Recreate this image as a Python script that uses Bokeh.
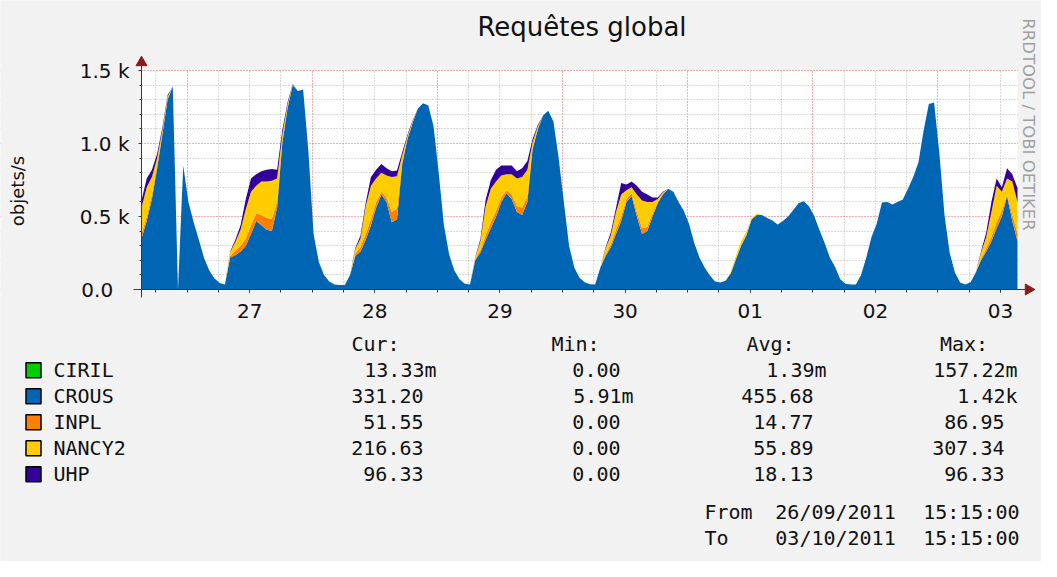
import math
import pandas as pd
from datetime import datetime, timedelta
from bokeh.plotting import figure
from bokeh.models import (ColumnDataSource, FixedTicker, DatetimeTickFormatter,
                          Range1d, BoxAnnotation)
from bokeh.embed import file_html
from bokeh.resources import INLINE
from bokeh.core.properties import value

# ---------------- data (hourly samples, 26/09/2011 15:15 -> 03/10/2011 15:15) ----------------
START = datetime(2011, 9, 26, 15, 15)
END = datetime(2011, 10, 3, 15, 15)

series_names = ["CIRIL", "CROUS", "INPL", "NANCY2", "UHP"]
series_colors = ["#00CC00", "#0066B3", "#FF8000", "#FFCC00", "#330099"]

CIRIL = [
    0, 0, 0, 0, 0, 0, 0, 0, 0,
    0, 0, 0, 0, 0, 0, 0, 0, 0, 0, 0, 0, 0, 0, 0, 0, 0, 0, 0, 0, 0, 0, 0, 0,
    0, 0, 0, 0, 0, 0, 0, 0, 0, 0, 0, 0, 0, 0, 0.157, 0, 0, 0, 0, 0, 0, 0, 0, 0,
    0, 0, 0, 0, 0, 0, 0, 0, 0, 0, 0, 0, 0, 0, 0, 0, 0, 0, 0, 0, 0, 0, 0, 0,
    0, 0, 0, 0, 0, 0, 0, 0, 0, 0, 0, 0, 0, 0, 0, 0, 0, 0, 0, 0, 0, 0, 0, 0,
    0, 0, 0, 0, 0, 0, 0, 0, 0, 0, 0, 0, 0, 0, 0, 0, 0, 0, 0, 0, 0, 0, 0, 0,
    0, 0, 0, 0, 0, 0, 0, 0, 0, 0, 0, 0, 0, 0, 0, 0, 0, 0, 0, 0, 0, 0, 0, 0,
    0, 0, 0, 0, 0, 0, 0, 0, 0, 0, 0, 0, 0, 0, 0, 0.013,
]
CROUS = [
    350, 470, 620, 830, 1060, 1300, 1390, 0, 850,
    600, 460, 340, 215, 130, 75, 45, 35, 220, 235, 260, 300, 380, 470, 440, 410, 400, 560, 1000, 1240, 1400, 1360, 1370, 950,
    380, 190, 100, 55, 35, 30, 30, 100, 230, 260, 340, 440, 560, 650, 600, 460, 480, 860, 1030, 1140, 1240, 1275, 1260, 1120,
    800, 440, 240, 130, 70, 40, 34, 200, 253, 340, 420, 500, 600, 660, 620, 530, 510, 600, 960, 1096, 1192, 1225, 1150, 900,
    600, 300, 150, 80, 50, 36, 34, 150, 230, 290, 380, 470, 600, 640, 500, 380, 400, 500, 590, 650, 690, 670, 600, 540,
    450, 320, 220, 150, 96, 55, 48, 60, 110, 205, 300, 370, 480, 510, 510, 490, 473, 445, 470, 500, 545, 590, 605, 570,
    505, 410, 320, 220, 155, 70, 40, 34, 34, 100, 220, 360, 450, 596, 600, 582, 600, 616, 690, 770, 870, 1090, 1270, 1281,
    940, 510, 250, 116, 48, 34, 50, 116, 200, 260, 330, 420, 500, 640, 470, 331.2,
]
INPL = [
    30, 30, 30, 20, 10, 5, 0, 0, 0,
    0, 0, 0, 0, 0, 0, 0, 0, 10, 30, 40, 50, 60, 50, 70, 80, 85, 40, 10, 5, 0, 0, 0, 0,
    0, 0, 0, 0, 0, 0, 0, 0, 15, 30, 40, 40, 40, 20, 30, 70, 75, 10, 5, 3, 0, 0, 0, 0,
    0, 0, 0, 0, 0, 0, 0, 5, 20, 30, 40, 40, 30, 20, 30, 40, 50, 40, 10, 5, 0, 0, 0, 0,
    0, 0, 0, 0, 0, 0, 0, 0, 10, 20, 30, 30, 20, 20, 30, 40, 30, 20, 10, 5, 0, 0, 0, 0,
    0, 0, 0, 0, 0, 0, 0, 0, 0, 5, 5, 5, 0, 0, 0, 0, 0, 0, 0, 0, 0, 0, 0, 0,
    0, 0, 0, 0, 0, 0, 0, 0, 0, 0, 0, 0, 0, 0, 0, 0, 0, 0, 0, 0, 0, 0, 0, 0,
    0, 0, 0, 0, 0, 0, 0, 0, 10, 20, 30, 40, 40, 10, 40, 51.55,
]
NANCY2 = [
    180, 200, 120, 50, 20, 15, 0, 0, 0,
    0, 0, 0, 0, 0, 0, 0, 0, 25, 60, 110, 200, 230, 190, 230, 250, 260, 160, 50, 20, 5, 0, 0, 0,
    0, 0, 0, 0, 0, 0, 0, 0, 30, 60, 190, 230, 160, 130, 150, 240, 220, 50, 15, 10, 0, 0, 0, 0,
    0, 0, 0, 0, 0, 0, 0, 10, 60, 200, 230, 200, 150, 110, 140, 190, 210, 180, 40, 15, 0, 0, 0, 0,
    0, 0, 0, 0, 0, 0, 0, 0, 40, 60, 120, 150, 60, 40, 120, 190, 170, 80, 20, 10, 0, 0, 0, 0,
    0, 0, 0, 0, 0, 0, 0, 0, 10, 20, 25, 20, 10, 8, 0, 0, 0, 0, 0, 0, 0, 0, 0, 0,
    0, 0, 0, 0, 0, 0, 0, 0, 0, 0, 0, 0, 0, 0, 0, 0, 0, 0, 0, 0, 0, 0, 0, 0,
    0, 0, 0, 0, 0, 0, 0, 0, 40, 80, 170, 250, 130, 110, 230, 216.63,
]
UHP = [
    50, 60, 50, 30, 20, 10, 0, 0, 0,
    0, 0, 0, 0, 0, 0, 0, 0, 5, 15, 30, 70, 90, 80, 70, 80, 80, 60, 30, 15, 5, 0, 0, 0,
    0, 0, 0, 0, 0, 0, 0, 0, 10, 20, 25, 60, 60, 60, 50, 40, 40, 20, 10, 7, 0, 0, 0, 0,
    0, 0, 0, 0, 0, 0, 0, 5, 15, 45, 60, 80, 70, 60, 60, 50, 60, 60, 20, 10, 0, 0, 0, 0,
    0, 0, 0, 0, 0, 0, 0, 0, 10, 20, 30, 80, 40, 40, 60, 60, 50, 30, 10, 5, 0, 0, 0, 0,
    0, 0, 0, 0, 0, 0, 0, 0, 0, 0, 0, 0, 0, 0, 0, 0, 0, 0, 0, 0, 0, 0, 0, 0,
    0, 0, 0, 0, 0, 0, 0, 0, 0, 0, 0, 0, 0, 0, 0, 0, 0, 0, 0, 0, 0, 0, 0, 0,
    0, 0, 0, 0, 0, 0, 0, 0, 10, 30, 70, 50, 30, 70, 50, 96.33,
]

# legend statistics (Cur, Min, Avg, Max)
stat_headers = ["Cur:", "Min:", "Avg:", "Max:"]
stats = {
    "CIRIL":  ["13.33m", "0.00", "1.39m", "157.22m"],
    "CROUS":  ["331.20", "5.91m", "455.68", "1.42k"],
    "INPL":   ["51.55", "0.00", "14.77", "86.95"],
    "NANCY2": ["216.63", "0.00", "55.89", "307.34"],
    "UHP":    ["96.33", "0.00", "18.13", "96.33"],
}
from_text = ["From", "26/09/2011", "15:15:00"]
to_text = ["To", "03/10/2011", "15:15:00"]
title_text = "Requêtes global"
y_label_text = "objets/s"
watermark_text = "RRDTOOL / TOBI OETIKER"

y_ticks = [0, 500, 1000, 1500]
y_tick_labels = ["0.0\u00a0\u2002", "0.5 k", "1.0 k", "1.5 k"]
YMAX = 1500

# ---------------- styling / layout constants ----------------
BG = "#f2f2f2"
GRID = "#b4b4b4"
MGRID = "#e86060"
AXIS = "#3a3a3a"
ARROW = "#8b1a1a"
TXT = "#111111"

W, H = 1041, 561                       # figure size
PX0, PY0 = 8, 8                        # page position of the figure
PX1, PY1 = PX0 + W, PY0 + H
PL, PR, PT, PB = 149, 1025, 78, 297    # page position of the graph area


def ms(dt):
    return pd.Timestamp(dt).value // 10**6


t0, t1 = ms(START), ms(END)
ms_per_px = (t1 - t0) / (PR - PL)
v_per_px = YMAX / (PB - PT)

times = pd.date_range(START, END, freq="1h")
src = ColumnDataSource(dict(t=times, CIRIL=CIRIL, CROUS=CROUS, INPL=INPL, NANCY2=NANCY2, UHP=UHP))

day0 = datetime(2011, 9, 27)
noons = [ms(day0 + timedelta(days=k, hours=12)) for k in range(7)]
midnights = [ms(day0 + timedelta(days=k)) for k in range(7)]
six_h = [ms(datetime(2011, 9, 26, 18) + timedelta(hours=6 * k)) for k in range(28)]
six_h_minor = [t for t in six_h if t not in midnights]
y_minor = [v for v in range(100, YMAX, 100) if v % 500]

p = figure(width=W, height=H, x_axis_type="datetime", title=None,
           x_range=Range1d(t0 - (PL - PX0) * ms_per_px, t1 + (PX1 - PR) * ms_per_px),
           y_range=Range1d(-(PY1 - PB) * v_per_px, YMAX + (PT - PY0) * v_per_px),
           output_backend="svg", toolbar_location=None, min_border=0,
           background_fill_color=BG, border_fill_color=BG, outline_line_color=None)
# page-pixel coordinate system for texts and legend
p.extra_x_ranges = {"px": Range1d(PX0, PX1)}
p.extra_y_ranges = {"px": Range1d(PY1, PY0)}

# white canvas of the graph
p.add_layout(BoxAnnotation(left=t0, right=t1, bottom=0, top=YMAX, fill_color="white",
                           fill_alpha=1, line_color=None, level="image"))

# grids
p.xgrid.ticker = FixedTicker(ticks=midnights, minor_ticks=six_h_minor)
p.ygrid.ticker = FixedTicker(ticks=y_ticks, minor_ticks=y_minor)
for g in (p.xgrid[0], p.ygrid[0]):
    g.grid_line_color = MGRID
    g.grid_line_dash = "1 2"
    g.minor_grid_line_color = GRID
    g.minor_grid_line_dash = "1 2"

# hide the grid outside the graph area
for kw in (dict(bottom=YMAX + 0.6 * v_per_px), dict(top=-0.6 * v_per_px),
           dict(right=t0), dict(left=t1 + 0.6 * ms_per_px)):
    p.add_layout(BoxAnnotation(fill_color=BG, fill_alpha=1, line_color=None, level="underlay", **kw))

# stacked areas
p.varea_stack(stackers=series_names, x="t", color=series_colors, source=src)

# x axis, drawn at value 0
xa = p.xaxis[0]
xa.fixed_location = 0
xa.bounds = (t0 - 8 * ms_per_px, t1 + 8 * ms_per_px)
xa.ticker = FixedTicker(ticks=noons, minor_ticks=six_h)
xa.formatter = DatetimeTickFormatter(days="%d", hours="%d", hourmin="%d", months="%d")
xa.major_label_standoff = 11
xa.major_tick_out = 3
xa.minor_tick_out = 3

# y axis, drawn at the start time
ya = p.yaxis[0]
ya.fixed_location = t0
ya.bounds = (-8 * v_per_px, YMAX + 9 * v_per_px)
ya.ticker = FixedTicker(ticks=y_ticks, minor_ticks=y_minor)
ya.major_label_overrides = dict(zip(y_ticks, y_tick_labels))
ya.major_label_standoff = 9
ya.major_tick_out = 3
ya.minor_tick_out = 2

for ax in (xa, ya):
    ax.major_label_text_font = "DejaVu Sans"
    ax.major_label_text_font_size = "20px"
    ax.major_label_text_color = TXT
    ax.major_tick_in = 0
    ax.minor_tick_in = 0
    ax.axis_line_color = AXIS
    ax.major_tick_line_color = AXIS
    ax.minor_tick_line_color = AXIS

# axis arrows
p.scatter(x=[PL, PR + 11], y=[PT - 8, PB], marker="triangle", size=11,
          angle=[0, -math.pi / 2], fill_color=ARROW, line_color=ARROW,
          x_range_name="px", y_range_name="px")

SANS = value("DejaVu Sans")
MONO = value("DejaVu Sans Mono")

# title, vertical axis title and watermark (y / x = middle of the text line)
p.text(x=[589.5], y=[34], text=[title_text], text_font=SANS, text_font_size=value("26px"),
       text_align="center", text_baseline="middle", text_color=TXT,
       x_range_name="px", y_range_name="px")
p.text(x=[25], y=[198.5], text=[y_label_text], angle=math.pi / 2, text_font=SANS,
       text_font_size=value("18px"), text_align="center", text_baseline="middle",
       text_color=TXT, x_range_name="px", y_range_name="px")
p.text(x=[1036], y=[132], text=[watermark_text], angle=-math.pi / 2, text_font=SANS,
       text_font_size=value("16.5px"), text_align="center", text_baseline="middle",
       text_color="#a0a0a0", x_range_name="px", y_range_name="px")

# ---------------- legend ----------------
FS = value("20px")
row0, row_step = 377.7, 26.0
rows_y = [row0 + row_step * k for k in range(len(series_names))]

p.rect(x=[41] * len(series_names), y=rows_y, width=15, height=15,
       fill_color=series_colors, line_color="black", line_width=1.5,
       x_range_name="px", y_range_name="px")
p.text(x=[61] * len(series_names), y=rows_y, text=series_names, text_font=MONO,
       text_font_size=FS, text_align="left", text_baseline="middle", text_color=TXT,
       x_range_name="px", y_range_name="px")

header_cx = [383, 583, 778, 971.5]
p.text(x=header_cx, y=[351.5] * 4, text=stat_headers, text_font=MONO, text_font_size=FS,
       text_align="center", text_baseline="middle", text_color=TXT,
       x_range_name="px", y_range_name="px")

col_right = [431, 628, 821, 1012]
vx, vy, vt = [], [], []
for name, y in zip(series_names, rows_y):
    for c, s in enumerate(stats[name]):
        vx.append(col_right[c] + (13 if s[-1].isalpha() else 0))
        vy.append(y)
        vt.append(s)
p.text(x=vx, y=vy, text=vt, text_font=MONO, text_font_size=FS, text_align="right",
       text_baseline="middle", text_color=TXT, x_range_name="px", y_range_name="px")

for line, ym in ((from_text, 519.5), (to_text, 545.5)):
    for txt, x, al in zip(line, (712, 843, 1027), ("left", "center", "right")):
        p.text(x=[x], y=[ym], text=[txt], text_font=MONO, text_font_size=FS,
               text_align=al, text_baseline="middle", text_color=TXT,
               x_range_name="px", y_range_name="px")

open("out.html", "w").write(file_html(p, INLINE))
